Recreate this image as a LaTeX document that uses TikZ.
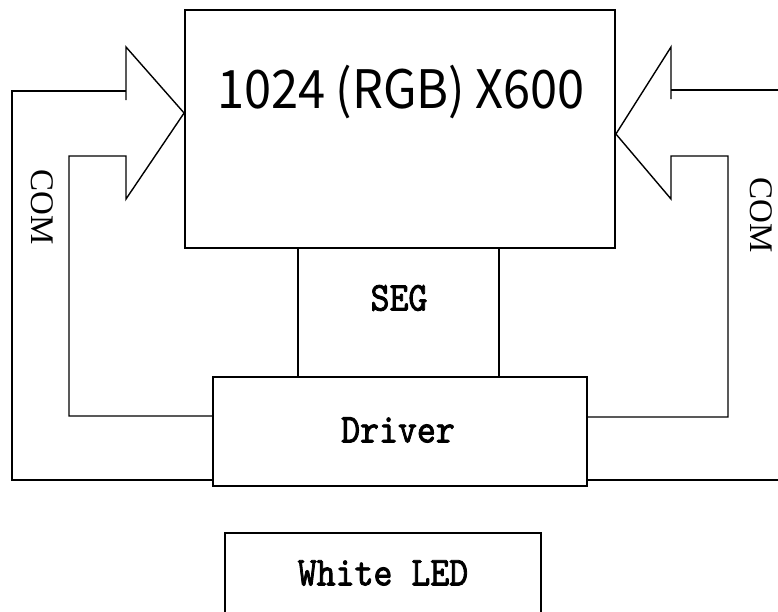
\documentclass[tikz,border=0pt]{standalone}
\usepackage{fontspec}
\newfontfamily\cjkfont{Noto Sans CJK SC}[FakeStretch=0.92]
\newfontfamily\comfont{Liberation Serif}
\newfontfamily\monofont{lmmono10-regular.otf}[FakeStretch=0.88,FakeBold=2]
\begin{document}
\begin{tikzpicture}[x=1pt,y=-1pt,
  boxline/.style={draw,line width=1.8pt,inner sep=0pt},
  wire/.style={line width=1.4pt,line join=miter},
  mono/.style={font=\monofont\fontsize{41}{41}\selectfont,inner sep=0pt},
  comlabel/.style={font=\comfont\fontsize{33}{33}\selectfont,rotate=-90,inner sep=0pt}]
\clip (0,0) rectangle (778,611);
\fill[white] (0,0) rectangle (778,611);
% boxes
\node[boxline,minimum width=430pt,minimum height=238pt] (lcd) at (400,129) {};
\node[font=\cjkfont\fontsize{53}{53}\selectfont,inner sep=0pt] (title) at (401,92) {1024\kern10pt(RGB)\kern10pt X600};
\node[boxline,minimum width=374pt,minimum height=109pt] (drv) at (400,431.5) {};
\node[mono] (drvtxt) at (398,430) {Driver};
\node[boxline,minimum width=316pt,minimum height=140pt] (led) at (383,603) {};
\node[mono] (ledtxt) at (383,573) {White LED};
\node[mono] (seg) at (399,298) {SEG};
\node[comlabel] (comL) at (42,207) {COM};
\node[comlabel] (comR) at (761,215) {COM};
% coordinates
\coordinate (lo1) at (12,480);
\coordinate (lo2) at (12,91);
\coordinate (lh1) at (126,91);
\coordinate (lh0) at (126,100);
\coordinate (lh2) at (126,47);
\coordinate (ltip) at (lcd.west |- 0,113);
\coordinate (lh3) at (126,199);
\coordinate (lh4) at (126,156);
\coordinate (li1) at (69,156);
\coordinate (li2) at (69,416);
\coordinate (ro1) at (778,480);
\coordinate (rh1) at (671,90);
\coordinate (re1) at (778,90);
\coordinate (rh0) at (671,99);
\coordinate (rh2) at (671,47);
\coordinate (rtip) at (lcd.east |- 0,134);
\coordinate (rh3) at (671,199);
\coordinate (rh4) at (671,156);
\coordinate (ri1) at (728,156);
\coordinate (ri2) at (728,417);
% SEG lines
\draw[wire] (lcd.south -| 298,0) -- (drv.north -| 298,0);
\draw[wire] (lcd.south -| 499,0) -- (drv.north -| 499,0);
% left arrow
\draw[wire] (drv.west |- lo1) -- (lo1) -- (lo2) -- (lh1);
\draw[wire] (lh0) -- (lh2) -- (ltip) -- (lh3) -- (lh4) -- (li1) -- (li2) -- (drv.west |- li2);
% right arrow
\draw[wire] (drv.east |- ro1) -- (ro1);
\draw[wire] (rh1) -- (re1);
\draw[wire] (rh0) -- (rh2) -- (rtip) -- (rh3) -- (rh4) -- (ri1) -- (ri2) -- (drv.east |- ri2);
\end{tikzpicture}
\end{document}
